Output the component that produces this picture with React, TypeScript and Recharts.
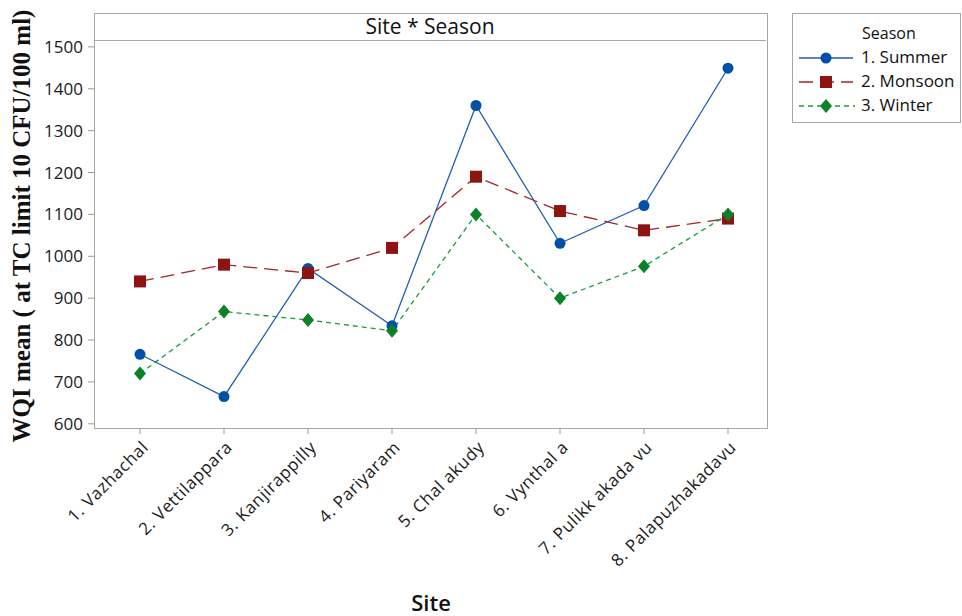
import React from 'react'
import { LineChart, Line, XAxis, YAxis } from 'recharts'

const sites = [
  '1. Vazhachal',
  '2. Vettilappara',
  '3. Kanjirappilly',
  '4. Pariyaram',
  '5. Chal akudy',
  '6. Vynthal a',
  '7. Pulikk akada vu',
  '8. Palapuzhakadavu',
]
const summer = [766, 665, 971, 834, 1360, 1031, 1121, 1449]
const monsoon = [940, 980, 960, 1020, 1190, 1108, 1062, 1090]
const winter = [720, 868, 848, 822, 1100, 900, 976, 1100]
const yTicks = [600, 700, 800, 900, 1000, 1100, 1200, 1300, 1400, 1500]

const data = sites.map((site, i) => ({
  site,
  summer: summer[i],
  monsoon: monsoon[i],
  winter: winter[i],
}))

const BLUE = '#1f5fb4'
const BLUE_DOT = '#0050a8'
const RED = '#a3262a'
const RED_DOT = '#8e1414'
const GREEN = '#1b9a3a'
const GREEN_DOT = '#0b8128'
const FONT = '"Open Sans", "Noto Sans", sans-serif'

const CircleDot = (props: any) => {
  const { cx, cy } = props
  if (cx == null || cy == null) return null
  return <circle cx={cx} cy={cy} r={5.5} fill={BLUE_DOT} />
}
const SquareDot = (props: any) => {
  const { cx, cy } = props
  if (cx == null || cy == null) return null
  return <rect x={cx - 6} y={cy - 6} width={12} height={12} fill={RED_DOT} />
}
const DiamondDot = (props: any) => {
  const { cx, cy } = props
  if (cx == null || cy == null) return null
  return <polygon points={`${cx},${cy - 7} ${cx + 6},${cy} ${cx},${cy + 7} ${cx - 6},${cy}`} fill={GREEN_DOT} />
}

const SiteTick = (props: any) => {
  const { x, y, payload } = props
  return (
    <g transform={`translate(${x + 3},${y + 6})`}>
      <text transform="rotate(-45)" textAnchor="end" dy={9} fontSize={17} letterSpacing={0.6} fill="#1a1a1a" fontFamily={FONT}>
        {payload.value}
      </text>
    </g>
  )
}

export default function App() {
  return (
    <div style={{ position: 'absolute', left: 0, top: 0, width: 962, height: 616, background: '#fff' }}>
      {/* plot frame and title band */}
      <div style={{ position: 'absolute', left: 94, top: 13, width: 672, height: 414, border: '1px solid #a8a8a8' }} />
      <div
        style={{
          position: 'absolute', left: 94, top: 13, width: 672, height: 27,
          borderBottom: '1px solid #a8a8a8', textAlign: 'center', fontFamily: FONT,
          fontSize: 21, lineHeight: '27px', color: '#111',
        }}
      >
        Site * Season
      </div>
      <LineChart
        width={962}
        height={616}
        data={data}
        margin={{ top: 41, right: 195, bottom: 68, left: 34 }}
        style={{ position: 'absolute', left: 0, top: 0 }}
      >
        <XAxis
          dataKey="site"
          height={120}
          interval={0}
          padding={{ left: 46, right: 39 }}
          axisLine={false}
          tickLine={{ stroke: '#999' }}
          tickSize={6}
          tick={<SiteTick />}
        />
        <YAxis
          width={60}
          domain={[590, 1514]}
          ticks={yTicks}
          axisLine={false}
          tickLine={{ stroke: '#999' }}
          tickSize={6}
          tick={{ fontSize: 17, fill: '#1a1a1a', fontFamily: FONT, dx: -3 }}
        />
        <Line dataKey="summer" stroke={BLUE} strokeWidth={1.3} dot={<CircleDot />} activeDot={false} isAnimationActive={false} />
        <Line dataKey="monsoon" stroke={RED} strokeWidth={1.3} strokeDasharray="14 7" dot={<SquareDot />} activeDot={false} isAnimationActive={false} />
        <Line dataKey="winter" stroke={GREEN} strokeWidth={1.3} strokeDasharray="5 4" dot={<DiamondDot />} activeDot={false} isAnimationActive={false} />
      </LineChart>
      {/* axis titles */}
      <div
        style={{
          position: 'absolute', left: 22, top: 226, transform: 'translate(-50%, -50%) rotate(-90deg)',
          whiteSpace: 'nowrap', fontFamily: '"Liberation Serif", serif', fontWeight: 'bold', fontSize: 25, color: '#111',
        }}
      >
        WQI mean ( at TC limit 10 CFU/100 ml)
      </div>
      <div
        style={{
          position: 'absolute', left: 431, top: 602, transform: 'translate(-50%, -50%)',
          fontFamily: FONT, fontSize: 22, fontWeight: 600, color: '#111',
        }}
      >
        Site
      </div>
      {/* legend */}
      <div style={{ position: 'absolute', left: 792, top: 13, width: 167, height: 108, border: '1px solid #a8a8a8', fontFamily: FONT, fontSize: 17, color: '#111' }}>
        <div style={{ position: 'absolute', left: 69, top: 8, fontSize: 16 }}>Season</div>
        <svg width={167} height={108} style={{ position: 'absolute', left: 0, top: 0 }}>
          <line x1={6} x2={60} y1={44} y2={44} stroke={BLUE} strokeWidth={1.3} />
          <circle cx={33} cy={44} r={5.5} fill={BLUE_DOT} />
          <line x1={6} x2={60} y1={68} y2={68} stroke={RED} strokeWidth={1.3} strokeDasharray="14 7" />
          <rect x={27} y={62} width={12} height={12} fill={RED_DOT} />
          <line x1={6} x2={62} y1={92} y2={92} stroke={GREEN} strokeWidth={1.3} strokeDasharray="5 4" />
          <polygon points="33,85 39,92 33,99 27,92" fill={GREEN_DOT} />
        </svg>
        <div style={{ position: 'absolute', left: 68, top: 31 }}>1. Summer</div>
        <div style={{ position: 'absolute', left: 68, top: 55 }}>2. Monsoon</div>
        <div style={{ position: 'absolute', left: 68, top: 79 }}>3. Winter</div>
      </div>
    </div>
  )
}
